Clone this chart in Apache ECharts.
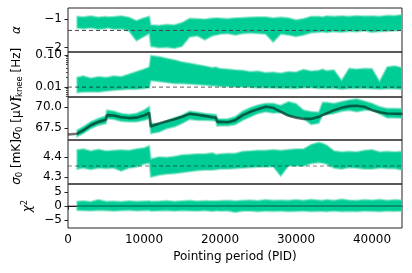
<!DOCTYPE html>
<html><head><meta charset="utf-8">
<script src="https://cdn.jsdelivr.net/npm/echarts@6/dist/echarts.min.js"></script>
<style>html,body{margin:0;padding:0;background:#fff}#c{width:412px;height:273px}</style>
</head><body><div id="c"></div>
<script>
// Pointing periods (PID) at which the envelope of each trace was read
const P = [1200, 2000, 3000, 4000, 5000, 5100, 6000, 7000, 8000, 9000, 10000, 10700, 10900, 12000, 13000, 14000, 15000, 16000, 17000, 18000, 19000, 19500, 19600, 20000, 21000, 22000, 23000, 24000, 25000, 26000, 27000, 28000, 29000, 30000, 31000, 32000, 33000, 33500, 34000, 35000, 36000, 37000, 38000, 39000, 40000, 41000, 42000, 43000, 44000];

// alpha
const alphaHi = [-0.90,-0.92,-0.88,-0.93,-0.90,-0.92,-0.91,-0.88,-0.93,-1.05, -0.95,-0.90,-1.20,-1.22,-1.18,-1.20,-1.12,-0.97,-0.98,-1.00, -0.96,-0.95,-0.95,-0.96,-0.98,-0.95,-0.94,-0.93,-0.92,-0.92, -0.95,-0.93,-0.95,-1.02,-0.98,-0.90,-0.90,-0.92,-0.88,-0.90, -0.88,-0.90,-0.87,-0.89,-0.88,-0.90,-0.86,-0.87,-0.84];
const alphaLo = [-1.30,-1.33,-1.30,-1.35,-1.32,-1.30,-1.34,-1.33,-1.40,-1.75, -1.60,-1.50,-1.95,-2.00,-1.98,-2.02,-1.95,-1.62,-1.58,-1.72, -1.58,-1.55,-1.55,-1.52,-1.50,-1.55,-1.50,-1.48,-1.50,-1.52, -1.80,-1.52,-1.55,-1.60,-1.55,-1.47,-1.45,-1.44,-1.46,-1.43, -1.45,-1.42,-1.44,-1.40,-1.45,-1.43,-1.42,-1.40,-1.38];
const alphaRef = -1.39;

// f_knee [Hz]
const fkHi = [0.020,0.022,0.019,0.021,0.020,0.020,0.022,0.021,0.025,0.030, 0.036,0.042,0.095,0.088,0.078,0.070,0.060,0.055,0.050,0.045, 0.040,0.042,0.040,0.038,0.036,0.034,0.033,0.030,0.031,0.028, 0.029,0.027,0.030,0.029,0.035,0.031,0.033,0.036,0.032,0.034, 0.016,0.038,0.036,0.038,0.037,0.015,0.042,0.045,0.040];
const fkLo = [0.0068,0.0070,0.0072,0.0070,0.0075,0.0075,0.0080,0.0082,0.0085,0.0085, 0.0090,0.0095,0.016,0.015,0.014,0.013,0.013,0.0125,0.012,0.0115, 0.011,0.011,0.011,0.0105,0.0105,0.010,0.010,0.0098,0.0095,0.0095, 0.0093,0.0092,0.0092,0.0090,0.0095,0.0095,0.0090,0.0092,0.0090,0.0092, 0.0085,0.0090,0.0090,0.0090,0.0088,0.0085,0.0088,0.0088,0.0085];
const fkRef = 0.01;

// sigma0 [uV]
const suvHi = [67.26,67.66,68.25,68.65,68.96,69.64,69.52,69.25,69.13,69.25, 69.64,70.04,68.06,68.10,68.40,68.73,69.05,69.52,69.40,69.25, 69.15,69.10,68.65,68.60,68.60,68.85,69.52,69.92,70.24,70.44, 70.44,70.20,70.63,70.40,69.64,69.44,69.40,70.56,70.56,70.44, 70.63,70.83,70.95,70.70,70.44,70.04,69.84,69.84,69.80];
const suvLo = [66.50,66.87,67.46,67.86,68.06,68.65,68.57,68.33,68.25,68.25, 68.45,68.65,66.87,67.06,67.46,67.66,68.06,68.57,68.45,68.45, 68.40,68.35,67.78,67.80,67.80,67.94,68.45,68.85,69.25,69.44, 69.30,69.35,68.95,68.78,68.62,67.95,68.10,69.05,69.10,69.25, 69.50,69.64,69.44,69.64,69.64,69.20,68.73,68.73,68.70];
const modelPid = [0].concat(P);
const suvModel = [66.75, 66.85,67.25,67.85,68.25,68.50,69.05,69.00,68.80,68.70,68.75, 69.00,69.30,67.70,68.06,68.33,68.57,68.85,69.20,69.10,68.96, 68.80,68.75,68.25,68.25,68.21,68.45,69.05,69.44,69.76,70.04, 69.92,69.45,69.00,68.75,68.60,68.60,68.85,69.05,69.25,69.64, 69.92,70.12,70.16,70.04,69.64,69.40,69.25,69.22,69.20];

// sigma0 [mK]
const smkHi = [4.435,4.440,4.430,4.438,4.430,4.430,4.432,4.435,4.432,4.440, 4.445,4.455,4.390,4.400,4.398,4.402,4.410,4.412,4.415,4.415, 4.420,4.412,4.412,4.415,4.418,4.418,4.428,4.430,4.432,4.432, 4.436,4.432,4.436,4.440,4.440,4.462,4.472,4.468,4.460,4.430, 4.425,4.428,4.425,4.432,4.436,4.425,4.428,4.425,4.428];
const smkLo = [4.340,4.345,4.338,4.345,4.342,4.342,4.345,4.330,4.345,4.350, 4.365,4.370,4.300,4.310,4.315,4.318,4.322,4.328,4.332,4.335, 4.335,4.338,4.338,4.340,4.340,4.342,4.345,4.348,4.350,4.350, 4.352,4.305,4.355,4.355,4.355,4.368,4.372,4.370,4.365,4.345, 4.340,4.348,4.345,4.340,4.340,4.345,4.342,4.343,4.335];
const smkRef = 4.355;

// chi^2
const chiHi = [1.6,1.8,1.5,2.2,1.6,1.6,1.7,1.5,1.8,1.6, 1.7,1.8,1.6,1.7,1.9,1.6,1.8,2.0,1.7,1.9, 1.8,1.8,1.8,1.9,2.0,1.8,2.0,2.1,1.9,2.2, 2.0,2.1,2.0,2.2,2.0,2.3,2.1,2.0,2.2,2.0, 2.4,2.1,2.0,2.2,2.1,2.3,2.0,2.2,2.1];
const chiLo = [-1.5,-1.6,-1.7,-1.5,-1.6,-1.6,-1.8,-1.6,-1.5,-1.7, -1.6,-1.5,-1.8,-1.7,-1.6,-1.8,-1.6,-1.7,-1.8,-1.6, -1.9,-1.7,-1.7,-1.8,-1.7,-2.2,-1.8,-1.8,-2.0,-1.8, -1.9,-1.8,-2.0,-1.9,-1.8,-2.0,-1.9,-1.9,-2.0,-1.8, -2.0,-1.9,-2.0,-1.8,-1.9,-2.0,-1.8,-1.9,-1.8];
const chiRef = 0;

// tick labels
const X_MAX = 43950;
const xTicks = [0, 10000, 20000, 30000, 40000];
const alphaTicks = [-2, -1];
const fkTicks = [0.01, 0.1];
const fkMinor = [0.005,0.006,0.007,0.008,0.009,0.02,0.03,0.04,0.05,0.06,0.07,0.08,0.09];
const suvTicks = [67.5, 70.0];
const smkTicks = [4.3, 4.4];
const chiTicks = [-5, 0, 5];

const FONT = 'DejaVu Sans';
const GREEN = '#00CC96';
const FRINGE = 'rgba(80,218,176,0.55)';
const minus = s => String(s).replace('-', '\u2212');

const tops = [8, 52, 97, 140, 184];
const heights = [44, 45, 43, 44, 44];
const grid = tops.map((t, i) => ({left: 68, right: 10, top: t, height: heights[i], show: true,
  borderColor: '#222', borderWidth: 1, backgroundColor: 'transparent'}));

const xAxis = tops.map((t, i) => ({
  type: 'value', gridIndex: i, min: 0, max: X_MAX, interval: 10000,
  axisLine: {show: i === 4, lineStyle: {color: '#222'}},
  axisTick: {show: i === 4, length: 3.5, lineStyle: {color: '#222'}, customValues: xTicks},
  axisLabel: {show: i === 4, margin: 6, fontFamily: FONT, fontSize: 12, color: '#000', formatter: v => String(v), customValues: xTicks},
  splitLine: {show: false},
  name: i === 4 ? 'Pointing period (PID)' : '', nameLocation: 'middle', nameGap: 23,
  nameTextStyle: {fontFamily: FONT, fontSize: 12, color: '#000'}
}));

const rich = {
  i: {fontFamily: FONT, fontSize: 12, fontStyle: 'italic', color: '#000', lineHeight: 15},
  n: {fontFamily: FONT, fontSize: 12, color: '#000', lineHeight: 15},
  sub: {fontFamily: FONT, fontSize: 8.5, color: '#000', verticalAlign: 'bottom', lineHeight: 9},
  sup: {fontFamily: FONT, fontSize: 8.5, color: '#000', verticalAlign: 'top', lineHeight: 9}
};
function yAx(gi, opt, ticks, fmt, name, gap) {
  return Object.assign({
    type: 'value', gridIndex: gi, position: 'left',
    axisLine: {show: false},
    axisTick: {show: true, length: 3.5, lineStyle: {color: '#222'}, customValues: ticks},
    axisLabel: {margin: 6, fontFamily: FONT, fontSize: 12, color: '#000', formatter: fmt, customValues: ticks},
    splitLine: {show: false},
    name: name, nameLocation: 'middle', nameGap: gap,
    nameTextStyle: {fontFamily: FONT, fontSize: 12, color: '#000', rich: rich}
  }, opt);
}
const yAxis = [
  yAx(0, {min: -2.15, max: -0.60}, alphaTicks, v => minus(v), '{i|α}', 44),
  yAx(1, {type: 'log', min: 0.0049, max: 0.124}, fkTicks, v => v.toFixed(2), '{i|f}{sub|knee}{n| [Hz]}', 44),
  {type: 'log', gridIndex: 1, position: 'left', min: 0.0049, max: 0.124, axisLine: {show: false},
   axisTick: {show: true, length: 2, lineStyle: {color: '#444'}, customValues: fkMinor},
   axisLabel: {show: false}, splitLine: {show: false}},
  yAx(2, {min: 66.1, max: 71.2}, suvTicks, v => v.toFixed(1), '{i|σ}{sub|0}{n| [μV]}', 44),
  yAx(3, {min: 4.265, max: 4.485}, smkTicks, v => v.toFixed(1), '{i|σ}{sub|0}{n| [mK]}', 44),
  yAx(4, {min: -7.9, max: 7.9}, chiTicks, v => minus(v), '{i|χ}{sup|2}', 20)
];
const yIdx = [0, 1, 3, 4, 5];

// filled envelope between lo and hi, drawn through the axes' scales
function band(gi, lo, hi) {
  return {
    type: 'custom', xAxisIndex: gi, yAxisIndex: yIdx[gi], silent: true, animation: false, clip: true,
    data: [[P[0], lo[0]]],
    renderItem: function (params, api) {
      const top = P.map((x, k) => api.coord([x, hi[k]]));
      const bot = P.map((x, k) => api.coord([x, lo[k]])).reverse();
      return {type: 'polygon', shape: {points: top.concat(bot)},
        style: {fill: GREEN, stroke: FRINGE, lineWidth: 2}};
    }
  };
}
function refLine(gi, v, style) {
  return {type: 'line', xAxisIndex: gi, yAxisIndex: yIdx[gi], symbol: 'none', silent: true, animation: false,
    data: [[0, v], [X_MAX, v]], lineStyle: style, z: 5};
}

const series = [
  band(0, alphaLo, alphaHi),
  refLine(0, alphaRef, {color: '#444', type: [4, 3], width: 1}),
  band(1, fkLo, fkHi),
  refLine(1, fkRef, {color: 'rgba(0,0,0,0.5)', type: [4, 3], width: 1.2}),
  band(2, suvLo, suvHi),
  {type: 'line', xAxisIndex: 2, yAxisIndex: 3, symbol: 'none', silent: true, animation: false, z: 5,
    data: modelPid.map((x, k) => [x, suvModel[k]]),
    lineStyle: {color: 'rgba(0,0,0,0.55)', width: 2.6}},
  band(3, smkLo, smkHi),
  refLine(3, smkRef, {color: 'rgba(0,0,0,0.5)', type: [4, 3], width: 1.2}),
  band(4, chiLo, chiHi),
  refLine(4, chiRef, {color: 'rgba(0,0,0,0.28)', type: 'solid', width: 2})
];

const chart = echarts.init(document.getElementById('c'), null, {renderer: 'canvas'});
chart.setOption({animation: false, grid, xAxis, yAxis, series});
</script></body></html>
